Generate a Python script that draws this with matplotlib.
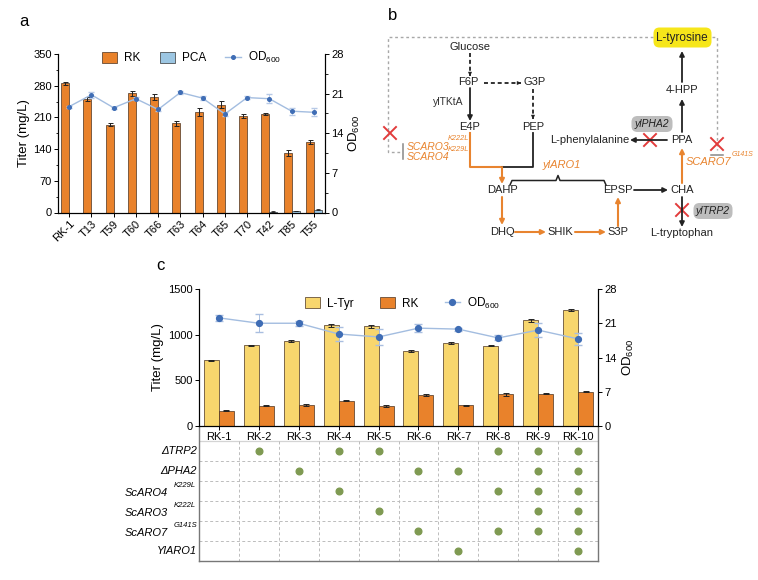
import numpy as np
import matplotlib
matplotlib.use("Agg")
import matplotlib.pyplot as plt
from matplotlib.patches import FancyBboxPatch
from matplotlib.ticker import MultipleLocator

plt.rcParams["font.family"] = ["Liberation Sans", "DejaVu Sans"]
plt.rcParams["mathtext.fontset"] = "custom"
plt.rcParams["mathtext.rm"] = "Liberation Sans"
plt.rcParams["mathtext.it"] = "Liberation Sans:italic"
plt.rcParams["mathtext.bf"] = "Liberation Sans:bold"

# ---- panel a data ----
a_strains = ["RK-1", "T13", "T59", "T60", "T66", "T63", "T64", "T65", "T70", "T42", "T85", "T55"]
a_rk = [285, 251, 194, 263, 255, 197, 222, 238, 213, 217, 131, 155]
a_rk_err = [3, 5, 3, 5, 7, 5, 8, 8, 4, 2, 7, 4]
a_pca = [0, 0, 0, 0, 0, 0, 0, 0, 0, 2, 3, 6]
a_pca_err = [0, 0, 0, 0, 0, 0, 0, 0, 0, 0.5, 0.5, 0.8]
a_od = [18.7, 20.8, 18.5, 20.1, 18.2, 21.2, 20.2, 17.4, 20.3, 20.1, 17.9, 17.7]
a_od_err = [0.2, 0.5, 0.2, 0.3, 0.2, 0.2, 0.3, 0.3, 0.3, 0.8, 0.6, 0.7]

# ---- panel c data ----
c_strains = ["RK-1", "RK-2", "RK-3", "RK-4", "RK-5", "RK-6", "RK-7", "RK-8", "RK-9", "RK-10"]
c_tyr = [721, 882, 933, 1101, 1090, 820, 911, 878, 1156, 1270]
c_tyr_err = [4, 8, 10, 12, 15, 12, 10, 6, 20, 6]
c_rk = [168, 220, 234, 278, 220, 337, 227, 348, 355, 373]
c_rk_err = [5, 6, 10, 8, 12, 12, 5, 15, 10, 6]
c_od = [22.1, 21.0, 21.0, 18.8, 18.2, 20.0, 19.8, 18.0, 19.6, 17.8]
c_od_err = [0.6, 1.8, 0.5, 1.5, 1.6, 0.8, 0.3, 0.5, 1.4, 1.3]

mod_labels = ["ΔTRP2", "ΔPHA2", "ScARO4", "ScARO3", "ScARO7", "YlARO1"]
mod_sup = ["", "", "K229L", "K222L", "G141S", ""]
mod_matrix = [
    [0, 1, 0, 1, 1, 0, 0, 1, 1, 1],
    [0, 0, 1, 0, 0, 1, 1, 0, 1, 1],
    [0, 0, 0, 1, 0, 0, 0, 1, 1, 1],
    [0, 0, 0, 0, 1, 0, 0, 0, 1, 1],
    [0, 0, 0, 0, 0, 1, 0, 1, 1, 1],
    [0, 0, 0, 0, 0, 0, 1, 0, 0, 1],
]

ORANGE = "#e9822b"
YELLOW = "#f8d66d"
PCA_BLUE = "#9cc6e2"
EDGE = "#4a3320"
OD_LINE = "#a3bde0"
OD_MARK = "#3f6db5"
GREEN = "#7f9a52"

W, H = 758, 580
fig = plt.figure(figsize=(7.58, 5.8), dpi=100)


def px_rect(x0, y0, x1, y1):
    return [x0 / W, 1 - y1 / H, (x1 - x0) / W, (y1 - y0) / H]


# ================= panel a =================
ax_a = fig.add_axes(px_rect(58, 54, 325, 212.5))
xa = np.arange(len(a_strains))
bw = 0.36
ax_a.bar(xa - bw / 2, a_rk, bw, color=ORANGE, edgecolor=EDGE, lw=0.5, label="RK",
         yerr=a_rk_err, error_kw=dict(ecolor="#222", elinewidth=0.7, capsize=1.8, capthick=0.7))
ax_a.bar(xa + bw / 2, a_pca, bw, color=PCA_BLUE, edgecolor="#333", lw=0.5, label="PCA",
         yerr=a_pca_err, error_kw=dict(ecolor="#222", elinewidth=0.6, capsize=1.2, capthick=0.6))
ax_a.set_xlim(-0.5, 11.5)
ax_a.set_ylim(0, 350)
ax_a.set_yticks(np.arange(0, 351, 70))
ax_a.yaxis.set_minor_locator(MultipleLocator(35))
ax_a.set_xticks(xa)
ax_a.set_xticklabels(a_strains, rotation=45, ha="right", rotation_mode="anchor")
ax_a.tick_params(axis="both", labelsize=8, length=3, width=0.7, pad=1.5)
ax_a.tick_params(axis="y", which="minor", length=1.8, width=0.6)
ax_a.set_ylabel("Titer (mg/L)", fontsize=9.5, labelpad=2)
ax_a.spines["top"].set_visible(False)

ax_a2 = ax_a.twinx()
ax_a2.errorbar(xa, a_od, yerr=a_od_err, fmt="none", ecolor="#b7c9e6", elinewidth=0.7,
               capsize=2, zorder=2)
ax_a2.plot(xa, a_od, color=OD_LINE, lw=1.0, marker="o", ms=2.6,
           mfc=OD_MARK, mec=OD_MARK, label="OD$_{600}$", zorder=3)
ax_a2.set_ylim(0, 28)
ax_a2.set_yticks(np.arange(0, 29, 7))
ax_a2.yaxis.set_minor_locator(MultipleLocator(3.5))
ax_a2.tick_params(axis="y", labelsize=8, length=3, width=0.7, pad=1.5)
ax_a2.tick_params(axis="y", which="minor", length=1.8, width=0.6)
ax_a2.set_ylabel("OD$_{600}$", fontsize=9.5, labelpad=2)
ax_a2.spines["top"].set_visible(False)
h1, l1 = ax_a.get_legend_handles_labels()
h2, l2 = ax_a2.get_legend_handles_labels()
ax_a.legend(h1 + h2, l1 + l2, loc="upper center", bbox_to_anchor=(0.5, 1.09), ncol=3,
            frameon=False, fontsize=8.5, handlelength=1.3, handleheight=1.1,
            columnspacing=1.6, handletextpad=0.6)

# ================= panel c =================
ax_t = fig.add_axes(px_rect(199, 426, 598, 561))
ax_t.set_facecolor("none")
ax_c = fig.add_axes(px_rect(199, 289, 598, 426))
xc = np.arange(len(c_strains))
cw = 0.375
ax_c.bar(xc - cw / 2, c_tyr, cw, color=YELLOW, edgecolor=EDGE, lw=0.5, label="L-Tyr",
         yerr=c_tyr_err, error_kw=dict(ecolor="#222", elinewidth=0.7, capsize=2.5, capthick=0.7))
ax_c.bar(xc + cw / 2, c_rk, cw, color=ORANGE, edgecolor=EDGE, lw=0.5, label="RK",
         yerr=c_rk_err, error_kw=dict(ecolor="#222", elinewidth=0.7, capsize=2.5, capthick=0.7))
ax_c.set_xlim(-0.5, 9.5)
ax_c.set_ylim(0, 1500)
ax_c.set_yticks([0, 500, 1000, 1500])
ax_c.set_xticks(xc)
ax_c.set_xticklabels(c_strains)
ax_c.tick_params(axis="both", labelsize=8, length=3, width=0.7, pad=1.5)
ax_c.set_ylabel("Titer (mg/L)", fontsize=9.5, labelpad=3)
ax_c.spines["top"].set_visible(False)

ax_c2 = ax_c.twinx()
ax_c2.errorbar(xc, c_od, yerr=c_od_err, fmt="none", ecolor="#a9bee0", elinewidth=0.7,
               capsize=3, zorder=2)
ax_c2.plot(xc, c_od, color=OD_LINE, lw=1.0, marker="o", ms=4.2,
           mfc=OD_MARK, mec=OD_MARK, label="OD$_{600}$", zorder=3)
ax_c2.set_ylim(0, 28)
ax_c2.set_yticks(np.arange(0, 29, 7))
ax_c2.tick_params(axis="y", labelsize=8, length=3, width=0.7, pad=1.5)
ax_c2.set_ylabel("OD$_{600}$", fontsize=9.5, labelpad=3)
ax_c2.spines["top"].set_visible(False)
h1, l1 = ax_c.get_legend_handles_labels()
h2, l2 = ax_c2.get_legend_handles_labels()
ax_c.legend(h1 + h2, l1 + l2, loc="upper center", bbox_to_anchor=(0.51, 1.03), ncol=3,
            frameon=False, fontsize=8.5, handlelength=1.3, handleheight=1.1,
            columnspacing=2.2, handletextpad=0.6)

# modification table
nrow = len(mod_labels)
ax_t.set_xlim(-0.5, 9.5)
ax_t.set_ylim(nrow, -0.75)
ax_t.set_xticks([])
ax_t.set_yticks([])
for s in ["left", "right", "bottom"]:
    ax_t.spines[s].set_color("#777777")
    ax_t.spines[s].set_linewidth(1.0)
ax_t.spines["top"].set_visible(False)
ax_t.axhline(0, color="#d4d4d4", lw=0.9)
for r in range(1, nrow):
    ax_t.axhline(r, color="#bcbcbc", lw=0.7, ls=(0, (3, 2.5)))
for cidx in range(len(c_strains) - 1):
    ax_t.plot([cidx + 0.5, cidx + 0.5], [0, nrow], color="#bcbcbc", lw=0.7, ls=(0, (3, 2.5)))
for r, row in enumerate(mod_matrix):
    cols = [i for i, v in enumerate(row) if v]
    ax_t.plot(cols, [r + 0.5] * len(cols), "o", color=GREEN, ms=4.8, ls="none")
    if mod_sup[r]:
        ax_t.text(-1.27, r + 0.6, mod_labels[r], ha="right", va="center", fontsize=8,
                  style="italic")
        ax_t.text(-1.13, r + 0.22, mod_sup[r], ha="left", va="center", fontsize=5.5,
                  style="italic")
    else:
        ax_t.text(-0.56, r + 0.5, mod_labels[r], ha="right", va="center", fontsize=8,
                  style="italic")
for t in ax_t.texts:
    t.set_clip_on(False)

# ================= panel b (pathway diagram, pixel coords) =================
ax_o = fig.add_axes([0, 0, 1, 1])
ax_o.set_xlim(0, W)
ax_o.set_ylim(H, 0)
ax_o.axis("off")

BLK = "#222222"
PORG = "#e8842f"
GRAY = "#a8a8a8"
RED = "#e23b3b"


def arrow(x0, y0, x1, y1, color=BLK, dashed=False, lw=1.3):
    if dashed:
        ax_o.plot([x0, x1], [y0, y1], color=color, lw=lw, ls=(0, (2.2, 1.6)),
                  solid_capstyle="butt")
        fx, fy = x1 - 0.25 * (x1 - x0), y1 - 0.25 * (y1 - y0)
        ax_o.annotate("", xy=(x1, y1), xytext=(fx, fy),
                      arrowprops=dict(arrowstyle="-|>", color=color, lw=0.1,
                                      mutation_scale=7, shrinkA=0, shrinkB=0))
    else:
        ax_o.annotate("", xy=(x1, y1), xytext=(x0, y0),
                      arrowprops=dict(arrowstyle="-|>", color=color, lw=lw,
                                      mutation_scale=7, shrinkA=0, shrinkB=0))


def cross(x, y, s=6):
    ax_o.plot([x - s, x + s], [y - s, y + s], color=RED, lw=1.4)
    ax_o.plot([x - s, x + s], [y + s, y - s], color=RED, lw=1.4)


nodes = {
    "Glucose": (470, 47), "F6P": (468, 82), "G3P": (535, 82), "E4P": (470, 127),
    "PEP": (533, 127), "DAHP": (502, 190), "EPSP": (618, 190), "CHA": (682, 190),
    "DHQ": (502, 232), "SHIK": (560, 232), "S3P": (618, 232),
    "L-tryptophan": (682, 233), "PPA": (682, 140), "L-phenylalanine": (590, 140),
    "4-HPP": (682, 90),
}
for name, (x, y) in nodes.items():
    ax_o.text(x, y, name, ha="center", va="center", fontsize=8, color=BLK)
ax_o.text(448, 102, "ylTKtA", ha="center", va="center", fontsize=7.5, color="#333")

# L-tyrosine highlight
ax_o.add_patch(FancyBboxPatch((655, 29), 55, 17, boxstyle="round,pad=1.5,rounding_size=6",
                              fc="#f6e61a", ec="none"))
ax_o.text(682, 38, "L-tyrosine", ha="center", va="center", fontsize=8.5, color=BLK)

# gray gene boxes
for (cx, cy, w, label) in [(652, 124, 38, "ylPHA2"), (713, 211, 36, "ylTRP2")]:
    ax_o.add_patch(FancyBboxPatch((cx - w / 2, cy - 6.5), w, 13,
                                  boxstyle="round,pad=1.5,rounding_size=6",
                                  fc="#bdbdbd", ec="none"))
    ax_o.text(cx, cy, label, ha="center", va="center", fontsize=7.5, style="italic", color=BLK)

# feedback dotted lines
ax_o.plot([653, 388, 388, 400], [37, 37, 152, 152], color=GRAY, lw=1.0, ls=(0, (2, 2)))
ax_o.plot([712, 717, 717], [37, 37, 150], color=GRAY, lw=1.0, ls=(0, (2, 2)))
ax_o.plot([403, 403], [144, 159], color="#888", lw=1.1)
ax_o.plot([711, 723], [154.5, 154.5], color="#888", lw=1.1)
cross(390, 133)
cross(717, 144)

# upper glycolysis arrows
arrow(470, 53, 470, 76, dashed=True)
arrow(484, 83, 521, 83, dashed=True)
arrow(533, 89, 533, 119, dashed=True)
arrow(470, 88, 470, 121)

# junction to DAHP
ax_o.plot([470, 470, 502], [133, 167, 167], color=PORG, lw=1.5)
ax_o.plot([533, 533, 502], [133, 167, 167], color=BLK, lw=1.3)
arrow(502, 167, 502, 184, color=PORG, lw=1.5)

# shikimate pathway
arrow(502, 197, 502, 225, color=PORG, lw=1.5)
arrow(515, 232, 546, 232, color=PORG, lw=1.5)
arrow(575, 232, 606, 232, color=PORG, lw=1.5)
arrow(618, 226, 618, 197, color=PORG, lw=1.5)
arrow(634, 190, 668, 190)
arrow(682, 197, 682, 227)
arrow(682, 183, 682, 148, color=PORG, lw=1.5)
arrow(667, 140, 630, 140)
arrow(682, 132, 682, 99)
arrow(682, 82, 682, 51)
cross(650, 140)
cross(682, 210)

# ylARO1 brace
ax_o.plot([510, 512, 556, 558, 560, 604, 606],
          [185, 180.5, 180.5, 175.5, 180.5, 180.5, 185], color=BLK, lw=1.1)
ax_o.text(562, 165, "ylARO1", ha="center", va="center", fontsize=8, style="italic", color=PORG)

# gene labels
ax_o.text(407, 147, "SCARO3", ha="left", va="center", fontsize=7.5, style="italic", color=PORG)
ax_o.text(407, 157.5, "SCARO4", ha="left", va="center", fontsize=7.5, style="italic", color=PORG)
ax_o.text(448, 139, "K222L", ha="left", va="center", fontsize=5.3, style="italic", color=PORG)
ax_o.text(448, 149.5, "K229L", ha="left", va="center", fontsize=5.3, style="italic", color=PORG)
ax_o.text(686, 162, "SCARO7", ha="left", va="center", fontsize=8, style="italic", color=PORG)
ax_o.text(732, 155, "G141S", ha="left", va="center", fontsize=5, style="italic", color=PORG)

# panel letters
ax_o.text(24, 22, "a", ha="center", va="center", fontsize=12)
ax_o.text(393, 15, "b", ha="center", va="center", fontsize=12)
ax_o.text(160, 265, "c", ha="center", va="center", fontsize=12)

fig.savefig("out.png", dpi=100)
